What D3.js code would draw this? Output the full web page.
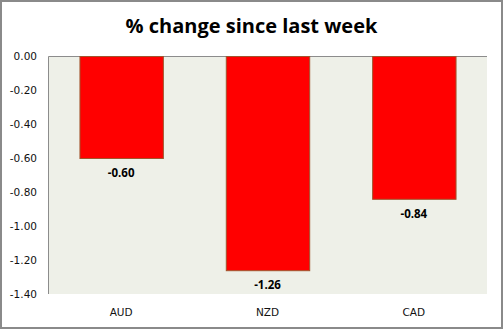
<!DOCTYPE html>
<html>
<head>
<meta charset="utf-8">
<script src="https://cdn.jsdelivr.net/npm/d3@7"></script>
<style>
  html, body { margin: 0; padding: 0; background: #fff; }
  svg { display: block; }
</style>
</head>
<body>
<svg id="chart" width="503" height="329"></svg>
<script>
// Weekly percentage change by currency
const categories = ["AUD", "NZD", "CAD"];
const values = [-0.60, -1.26, -0.84];
const yTicks = [0.00, -0.20, -0.40, -0.60, -0.80, -1.00, -1.20, -1.40];
const titleText = "% change since last week";

const W = 503, H = 329;
const plot = { left: 48, top: 56, right: 487, bottom: 294 };

// Number format using a plain hyphen for negatives
const fmt = d3.formatLocale({
  decimal: ".", thousands: ",", grouping: [3], currency: ["", ""], minus: "-"
}).format(".2f");

const svg = d3.select("#chart");

// Outer frame
svg.append("rect")
  .attr("x", 1).attr("y", 1)
  .attr("width", W - 2).attr("height", H - 2)
  .attr("fill", "#fff")
  .attr("stroke", "#8a8a8a")
  .attr("stroke-width", 2);

const x = d3.scaleBand()
  .domain(categories)
  .range([plot.left, plot.right])
  .paddingInner(0.43)
  .paddingOuter(0.215);

const y = d3.scaleLinear()
  .domain([0, -1.4])
  .range([plot.top, plot.bottom]);

// Plot background
svg.append("rect")
  .attr("x", plot.left).attr("y", plot.top)
  .attr("width", plot.right - plot.left)
  .attr("height", plot.bottom - plot.top)
  .attr("fill", "#eef0e8");

// Plot border on left and top
svg.append("path")
  .attr("d", `M${plot.left + 0.5},${plot.bottom}V${plot.top + 0.5}H${plot.right}`)
  .attr("fill", "none")
  .attr("stroke", "#8c8c8c")
  .attr("stroke-width", 1);

// Title
svg.append("text")
  .attr("x", 251.5).attr("y", 33)
  .attr("text-anchor", "middle")
  .attr("font-family", "Open Sans, Lato, sans-serif")
  .attr("font-weight", "bold")
  .attr("font-size", 20)
  .attr("fill", "#000")
  .text(titleText);

// Y axis labels
const yAxis = d3.axisLeft(y)
  .tickValues(yTicks)
  .tickSize(0)
  .tickPadding(0)
  .tickFormat(fmt);

const yg = svg.append("g")
  .attr("transform", `translate(37,0)`)
  .call(yAxis);
yg.select(".domain").remove();
yg.selectAll("text")
  .attr("font-family", "DejaVu Sans, Verdana, sans-serif")
  .attr("font-size", 10.5)
  .attr("fill", "#111")
  .attr("dy", "0.35em")
  .attr("text-anchor", "end");

// X axis labels
const xAxis = d3.axisBottom(x).tickSize(0).tickPadding(0);
const xg = svg.append("g")
  .attr("transform", `translate(0,312)`)
  .call(xAxis);
xg.select(".domain").remove();
xg.selectAll("text")
  .attr("font-family", "DejaVu Sans, Verdana, sans-serif")
  .attr("font-size", 10.5)
  .attr("fill", "#111")
  .attr("dy", "0.35em");

// Bars
svg.append("g").selectAll("rect")
  .data(values)
  .join("rect")
  .attr("x", (d, i) => x(categories[i]) + 0.5)
  .attr("y", y(0) + 0.5)
  .attr("width", x.bandwidth())
  .attr("height", d => y(d) - y(0))
  .attr("fill", "#ff0000")
  .attr("stroke", "#a0552d")
  .attr("stroke-width", 1);

// Value labels
svg.append("g").selectAll("text")
  .data(values)
  .join("text")
  .attr("x", (d, i) => x(categories[i]) + x.bandwidth() / 2)
  .attr("y", d => y(d) + 19)
  .attr("text-anchor", "middle")
  .attr("font-family", "Open Sans, Lato, sans-serif")
  .attr("font-weight", "bold")
  .attr("font-size", 11.5)
  .attr("fill", "#000")
  .text(d => fmt(d));
</script>
</body>
</html>
